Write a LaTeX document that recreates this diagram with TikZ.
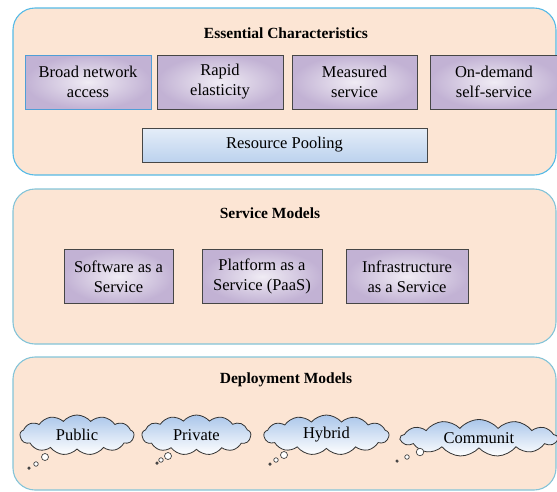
\documentclass[tikz,border=0pt]{standalone}
\usepackage{fontspec}
\setmainfont{Liberation Serif}
\usetikzlibrary{positioning, shapes.symbols}
\definecolor{panelfill}{RGB}{252,229,212}
\definecolor{topedge}{RGB}{86,186,230}
\definecolor{paneledge}{RGB}{132,196,216}
\definecolor{boxfill}{RGB}{194,178,212}
\definecolor{boxedge}{RGB}{70,70,70}
\definecolor{netedge}{RGB}{80,158,214}
\definecolor{poolfill}{RGB}{188,210,238}
\definecolor{cloudfill}{RGB}{170,198,234}

\begin{document}
\begin{tikzpicture}[
  x=1pt, y=-1pt,
  panel/.style={draw=paneledge, fill=panelfill, line width=1.1pt, rounded corners=22pt},
  heading/.style={font=\fontsize{15.5}{18}\selectfont\bfseries},
  box/.style={draw=boxedge, line width=1pt, inner color=boxfill!25, outer color=boxfill,
              minimum height=54pt, align=center, inner sep=2pt,
              font=\fontsize{16.5}{20}\selectfont},
  netbox/.style={box, draw=netedge},
  pool/.style={draw=boxedge, line width=1pt, top color=poolfill!40, bottom color=poolfill,
               minimum width=285pt, minimum height=34pt,
               font=\fontsize{16.5}{20}\selectfont},
  cloudbox/.style={cloud, cloud puffs=13, cloud puff arc=100, cloud ignores aspect,
                   draw=black!80, line width=0.8pt,
                   top color=cloudfill, bottom color=white, inner sep=0pt,
                   minimum height=40pt, font=\fontsize{16.5}{20}\selectfont},
  bubble/.style={circle, draw=black!75, fill=white, line width=0.7pt, inner sep=0pt}
]
  \useasboundingbox (0,0) rectangle (557,491);

  % the three panels
  \draw[panel, draw=topedge] (13,8) rectangle (556,175);
  \draw[panel] (13,189) rectangle (556,344);
  \draw[panel] (13,357) rectangle (556,490);

  % essential characteristics
  \node[heading] (esstitle) at (286,33) {Essential Characteristics};
  \node[netbox, minimum width=126pt] (broad) at (88,82) {Broad network\\access};
  \node[box, minimum width=126pt, right=5pt of broad] (rapid) {Rapid\\elasticity};
  \node[box, minimum width=125pt, right=8pt of rapid] (measured) {Measured\\service};
  \node[box, minimum width=128pt, right=12pt of measured] (ondemand) {On-demand\\self-service};
  \node[pool] (pooling) at (284.5,145) {Resource Pooling};

  % service models
  \node[heading] (svctitle) at (270,213) {Service Models};
  \node[box, minimum width=109pt] (saas) at (118.5,276.5) {Software as a\\Service};
  \node[box, minimum width=120pt, right=28pt of saas] (paas) {Platform as a\\Service (PaaS)};
  \node[box, minimum width=122pt, right=23pt of paas] (iaas) {Infrastructure\\as a Service};

  % deployment models
  \node[heading] (deptitle) at (286,380) {Deployment Models};
  \node[cloudbox, minimum width=114pt] (public) at (77,435) {Public};
  \node[cloudbox, minimum width=109pt, right=7pt of public] (private) {Private};
  \node[cloudbox, minimum width=125pt, right=12pt of private] (hybrid) {Hybrid};
  \node[cloudbox, minimum width=157pt, minimum height=37pt, right=10pt of hybrid, yshift=-3pt] (community) {Communit};

  % thought bubbles under each cloud
  \node[bubble, minimum size=7pt] (pubA) at (45,457) {};
  \node[bubble, minimum size=4.5pt] (pubB) at (36,464) {};
  \node[bubble, minimum size=2.5pt, fill=black!70] (pubC) at (29,468) {};
  \node[bubble, minimum size=7pt] (priA) at (168,456) {};
  \node[bubble, minimum size=4.5pt] (priB) at (161,460) {};
  \node[bubble, minimum size=2.5pt, fill=black!70] (priC) at (157,463) {};
  \node[bubble, minimum size=7pt] (hybA) at (284,455) {};
  \node[bubble, minimum size=4.5pt] (hybB) at (276,460) {};
  \node[bubble, minimum size=2.5pt, fill=black!70] (hybC) at (270,464) {};
  \node[bubble, minimum size=7.5pt] (comA) at (420,452) {};
  \node[bubble, minimum size=4.5pt] (comB) at (407,457) {};
  \node[bubble, minimum size=2.5pt, fill=black!70] (comC) at (397,461) {};
\end{tikzpicture}
\end{document}
